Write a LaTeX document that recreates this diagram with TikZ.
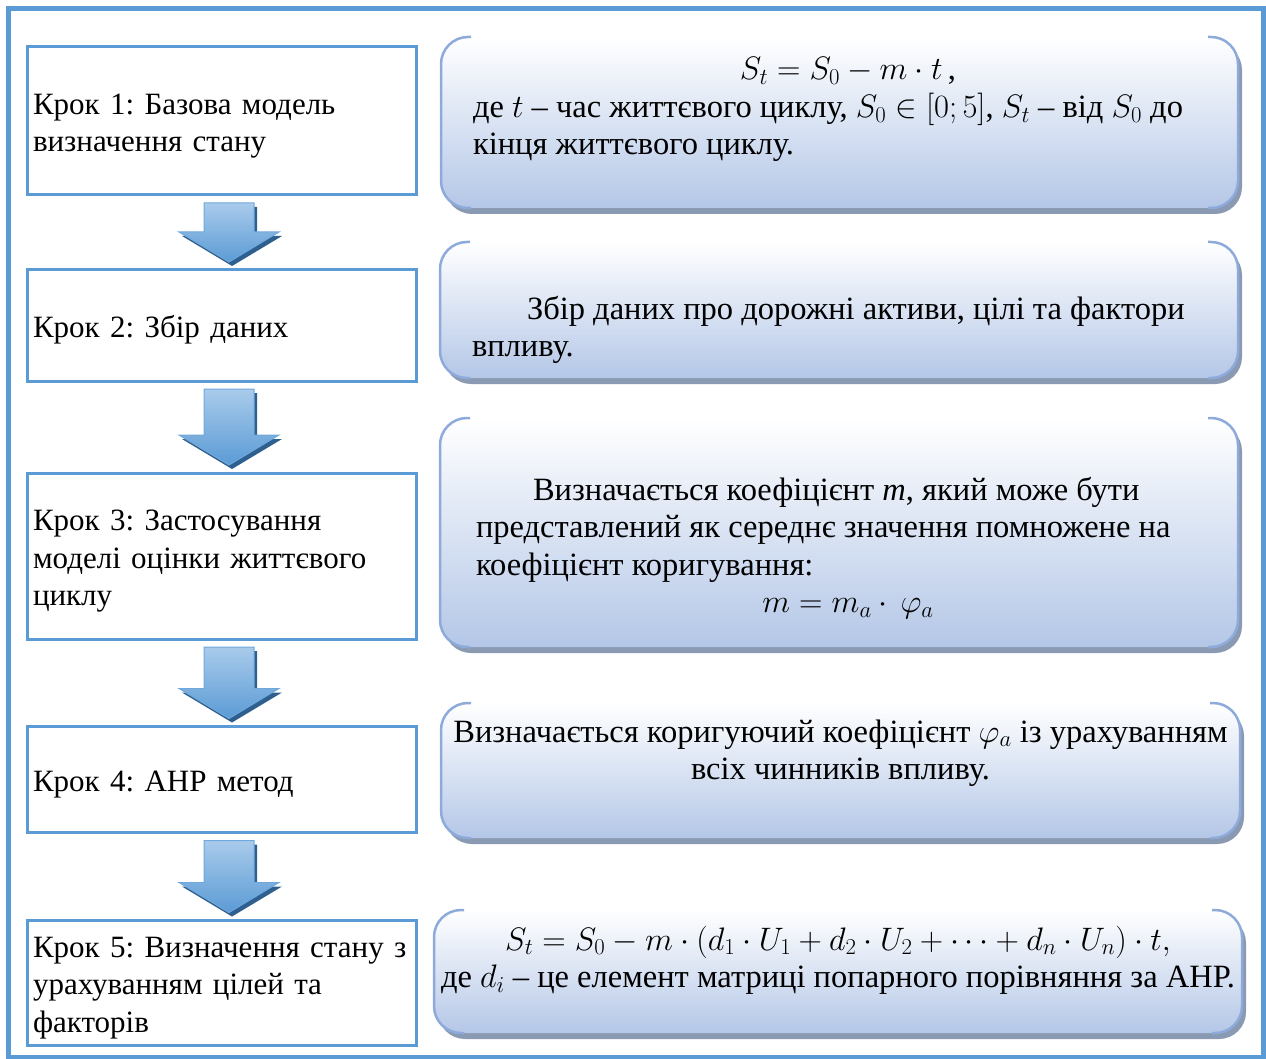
\RequirePackage{fix-cm}
\documentclass[tikz,border=0pt]{standalone}
\usepackage{fontspec}
\setmainfont{Liberation Serif}
\frenchspacing
\usetikzlibrary{calc,backgrounds}

\definecolor{frameblue}{HTML}{5B9BD5}
\definecolor{arrowtop}{HTML}{A9CBEB}
\definecolor{arrowbottom}{HTML}{5B9BD5}
\definecolor{arrowline}{HTML}{6FA8DC}
\definecolor{arrowshadow}{HTML}{2F5F8F}
\definecolor{panelblue}{HTML}{B4C7E7}
\definecolor{panelmid}{HTML}{E2E9F5}
\definecolor{paneledge}{HTML}{8EAADB}
\definecolor{panelshadow}{HTML}{8A9AB2}

\newcommand\stepfont{\fontsize{31pt}{37.5pt}\selectfont}
\newcommand\panelfont{\fontsize{32.5pt}{37.5pt}\selectfont}

% text block of a panel: height, width, first baseline below the top, contents
\newcommand\panelbody[4]{%
  \begin{minipage}[c][#1pt][t]{#2pt}%
    \vspace*{\dimexpr#3pt-30pt\relax}%
    \rule{0pt}{30pt}#4%
  \end{minipage}}

% rounded panel with gradient fill, side brackets and a drop shadow
\newcommand\panel[1]{%
  \fill[panelshadow, rounded corners=27pt]
    ($(#1.north west)+(4,6)$) rectangle ($(#1.south east)+(4,6)$);
  \shade[top color=white, middle color=panelmid, bottom color=panelblue,
         rounded corners=27pt]
    (#1.north west) rectangle (#1.south east);
  \draw[paneledge, line width=2.5pt, rounded corners=27pt]
    ($(#1.north west)+(30,0)$) -- (#1.north west) -- (#1.south west)
    -- ($(#1.south west)+(30,0)$);
  \draw[paneledge, line width=2.5pt, rounded corners=27pt]
    ($(#1.north east)+(-30,0)$) -- (#1.north east) -- (#1.south east)
    -- ($(#1.south east)+(-30,0)$);
}

% outline of a block arrow, shifted by (#2,#3)
\newcommand\arrowoutline[3]{%
  ($(#1t)+(-25+#2,#3)$) -- ($(#1t)+(25+#2,#3)$) -- ($(#1h)+(25+#2,#3)$)
  -- ($(#1h)+(50+#2,#3)$) -- ($(#1p)+(#2,#3)$) -- ($(#1h)+(-50+#2,#3)$)
  -- ($(#1h)+(-25+#2,#3)$) -- cycle}

% block arrow from step #1 to step #2, coordinates prefixed with #3
\newcommand\flowarrow[3]{%
  \coordinate (#3t) at ($(#1.south)+(7,8)$);
  \coordinate (#3p) at ($(#2.north)+(7,-8)$);
  \coordinate (#3h) at ($(#3p)+(0,-30)$);
  \fill[arrowshadow] \arrowoutline{#3}{3}{4};
  \shade[top color=arrowtop, bottom color=arrowbottom, draw=arrowline,
         line width=1pt] \arrowoutline{#3}{0}{0};
}

\begin{document}
\begin{tikzpicture}[x=1pt, y=-1pt,
  stepbox/.style={draw=frameblue, fill=white, line width=3pt,
    minimum width=389pt, text width=378pt, inner xsep=5.5pt, inner ysep=0pt,
    outer sep=0pt, align=left, font=\stepfont},
  panelnode/.style={inner sep=0pt, outer sep=0pt, font=\panelfont}]

\useasboundingbox (0,0) rectangle (1266,1059);
\draw[frameblue, line width=5pt] (8,9) rectangle (1263,1057);

% steps
\node[stepbox, minimum height=148.5pt] (s1) at (222,120.75)
  {\rule{0pt}{31pt}Крок 1: Базова модель\\визначення стану};
\node[stepbox, minimum height=111pt] (s2) at (222,325.5)
  {\rule{0pt}{31pt}Крок 2: Збір даних};
\node[stepbox, minimum height=166pt] (s3) at (222,556)
  {\rule{0pt}{31pt}\mbox{Крок 3: Застосування}\\\mbox{моделі оцінки життєвого}\\циклу};
\node[stepbox, minimum height=106pt] (s4) at (222,779.5)
  {\rule{0pt}{31pt}Крок 4: AHP метод};
\node[stepbox, minimum height=125pt] (s5) at (222,983)
  {\rule{0pt}{30pt}\mbox{Крок 5: Визначення стану з}\\\mbox{урахуванням цілей та}\\факторів};

% descriptions
\node[panelnode] (p1) at (839.5,122.5) {\panelbody{171}{797}{43}{%
  \makebox[\linewidth]{\hspace{17pt}$S_t = S_0 - m\cdot t$\,,}\\
  \hspace*{32pt}де $t$ – час життєвого циклу, $S_0\in[0;5]$, $S_t$ – від $S_0$ до\\
  \hspace*{32pt}кінця життєвого циклу.}};
\node[panelnode] (p2) at (839,310) {\panelbody{136}{798}{77}{%
  \hspace*{87pt}Збір даних про дорожні активи, цілі та фактори\\
  \hspace*{32pt}впливу.}};
\node[panelnode] (p3) at (839,532.5) {\panelbody{229}{798}{82}{%
  \hspace*{93pt}Визначається коефіцієнт \textit{m}, який може бути\\
  \hspace*{36pt}представлений як середнє значення помножене на\\
  \hspace*{36pt}коефіцієнт коригування:\\
  \makebox[\linewidth]{\hspace{18pt}$m = m_a\cdot\,\varphi_a$}}};
\node[panelnode] (p4) at (840.5,770.5) {\panelbody{135}{799}{39}{%
  \makebox[\linewidth]{Визначається коригуючий коефіцієнт $\varphi_a$ із урахуванням}\\
  \makebox[\linewidth]{всіх чинників впливу.}}};
\node[panelnode] (p5) at (838,971.5) {\panelbody{123}{808}{40}{%
  \makebox[\linewidth]{$S_t = S_0 - m\cdot(d_1\cdot U_1 + d_2\cdot U_2 + \cdots + d_n\cdot U_n)\cdot t,$}\\
  \makebox[\linewidth]{де $d_i$ – це елемент матриці попарного порівняння за АНР.}}};

\begin{scope}[on background layer]
  \panel{p1}\panel{p2}\panel{p3}\panel{p4}\panel{p5}
\end{scope}

% transitions between the steps
\flowarrow{s1}{s2}{a1}
\flowarrow{s2}{s3}{a2}
\flowarrow{s3}{s4}{a3}
\flowarrow{s4}{s5}{a4}
\end{tikzpicture}
\end{document}
